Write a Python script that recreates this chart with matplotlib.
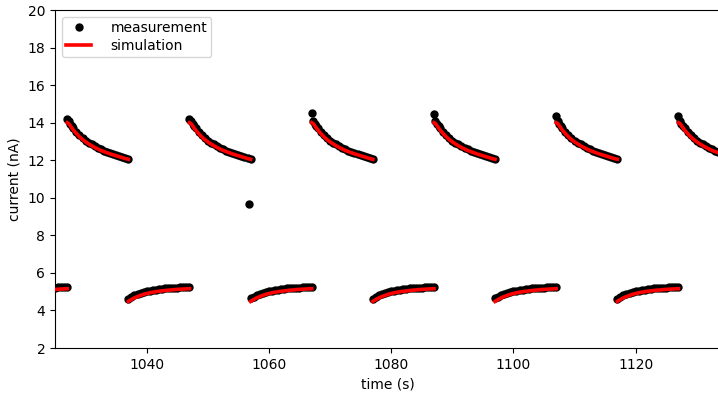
import numpy as np
import matplotlib
matplotlib.use("Agg")
import matplotlib.pyplot as plt

# Pulse timing (s): high-voltage phases and low-voltage phases, 10 s each
high_starts = [1027, 1047, 1067, 1087, 1107, 1127]
low_starts = [1017, 1037, 1057, 1077, 1097, 1117]

# Sample times within a high phase (s after switching)
high_offsets = [0.0, 0.25, 0.5, 0.75, 1.0, 1.5, 2.0, 2.5, 3.0, 3.5, 4.0, 4.5,
                5.0, 5.5, 6.0, 6.5, 7.0, 7.5, 8.0, 8.5, 9.0, 9.5, 10.0]
# First measured point of each high phase (nA)
high_first_meas = [14.20, 14.20, 14.52, 14.48, 14.35, 14.35]
# Remaining measured points of a high phase (nA)
high_meas = [14.08, 13.94, 13.81, 13.70, 13.50, 13.33, 13.18, 13.05, 12.94,
             12.84, 12.75, 12.66, 12.58, 12.51, 12.45, 12.39, 12.33, 12.28,
             12.22, 12.16, 12.10, 12.04]
# Simulated current in a high phase (nA)
high_sim = [14.00, 13.95, 13.84, 13.72, 13.61, 13.42, 13.25, 13.10, 12.98,
            12.87, 12.77, 12.68, 12.60, 12.52, 12.46, 12.40, 12.34, 12.29,
            12.24, 12.19, 12.14, 12.09, 12.05]

# Sample times within a low phase (s after switching)
low_offsets = [0.0, 0.5, 1.0, 1.5, 2.0, 2.5, 3.0, 3.5, 4.0, 4.5, 5.0,
               5.5, 6.0, 6.5, 7.0, 7.5, 8.0, 8.5, 9.0, 9.5, 10.0]
low_first_meas = [4.60, 4.60, 4.68, 4.60, 4.65, 4.60]
low_meas = [4.72, 4.80, 4.87, 4.93, 4.98, 5.02, 5.06, 5.09, 5.11, 5.13,
            5.15, 5.17, 5.18, 5.20, 5.21, 5.22, 5.23, 5.24, 5.25, 5.26]
low_sim = [4.48, 4.58, 4.67, 4.74, 4.80, 4.86, 4.90, 4.94, 4.97, 5.00, 5.02,
           5.04, 5.06, 5.08, 5.09, 5.11, 5.12, 5.13, 5.14, 5.15, 5.16]

# Isolated measurement taken during a switching transient
transient_t = [1056.8]
transient_i = [9.65]

fig = plt.figure(figsize=(7.18, 3.96), dpi=100)
ax = fig.add_axes([55 / 718, 48 / 396, 665 / 718, 338 / 396])

meas_t, meas_i = [], []
sim_segments = []
for k, t0 in enumerate(high_starts):
    off = np.array(high_offsets)
    meas_t.extend(t0 + off)
    meas_i.extend([high_first_meas[k]] + high_meas)
    sim_segments.append((t0 + off, np.array(high_sim)))
for k, t0 in enumerate(low_starts):
    off = np.array(low_offsets)
    meas_t.extend(t0 + off)
    meas_i.extend([low_first_meas[k]] + low_meas)
    sim_segments.append((t0 + off, np.array(low_sim)))
meas_t.extend(transient_t)
meas_i.extend(transient_i)

ax.plot(meas_t, meas_i, "o", color="black", ms=5, label="measurement",
        zorder=2)
for j, (ts, vs) in enumerate(sim_segments):
    ax.plot(ts, vs, "-", color="red", lw=2.6,
            label="simulation" if j == 0 else None, zorder=3)

ax.set_xlim(1025, 1133.8)
ax.set_ylim(2, 20)
ax.set_yticks(np.arange(2, 21, 2))
ax.set_xticks([1040, 1060, 1080, 1100, 1120])
ax.tick_params(labelsize=10)
ax.set_xlabel("time (s)", fontsize=10)
ax.set_ylabel("current (nA)", fontsize=10)
ax.legend(loc="upper left", fontsize=10, handlelength=1.8,
          handletextpad=1.4, labelspacing=0.25, borderpad=0.3,
          borderaxespad=0.5)

fig.savefig("out.png", dpi=100)
